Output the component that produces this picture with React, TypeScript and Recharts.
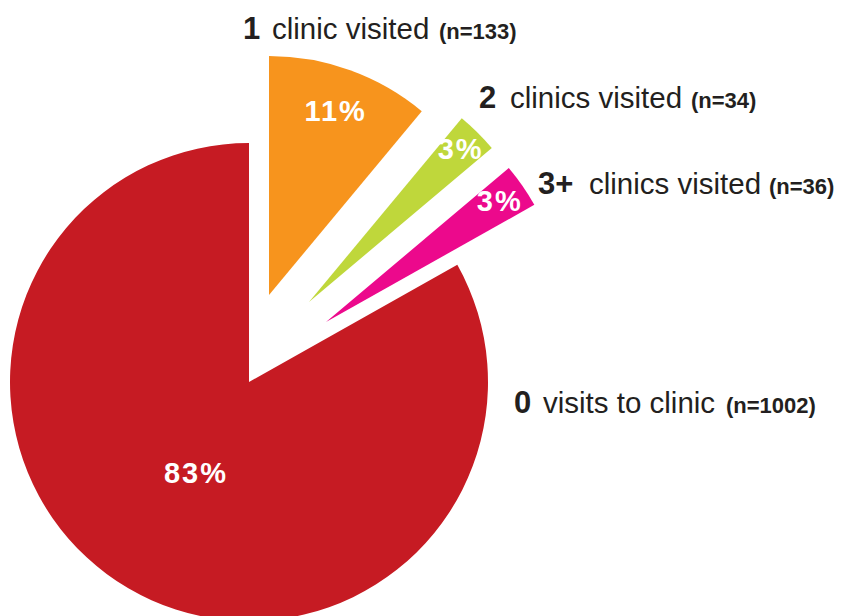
import { PieChart, Pie, Cell } from "recharts";

// clinic visits, clockwise from 12 o'clock
const categories = ["1 clinic", "2 clinics", "3+ clinics", "0 visits"];
const counts = [133, 34, 36, 1002];
const leadNumbers = ["1", "2", "3+", "0"];
const descriptions = ["clinic visited", "clinics visited", "clinics visited", "visits to clinic"];

const COLORS = ["#f7941d", "#bfd73b", "#ec098c", "#c61b23"];
const FONT = "'Liberation Sans', Arial, Helvetica, sans-serif";
const TEXT = "#231f20";

// how far each slice is pulled out from the red centre
const EXPLODE = [
  { dx: 20, dy: -87 },
  { dx: 60, dy: -80 },
  { dx: 77, dy: -60 },
  { dx: 0, dy: 0 },
];
// percent label distance from slice tip, as a share of radius
const PCT_RADIUS = [0.82, 0.9, 0.885, 0.44];
// outer category labels: x of each part, shared baseline
const LABEL_POS = [
  { lead: 243, desc: 272, n: 439, y: 39 },
  { lead: 479, desc: 510, n: 691, y: 108 },
  { lead: 538, desc: 589, n: 769, y: 194 },
  { lead: 514, desc: 543, n: 726, y: 413 },
];

const CX = 249;
const CY = 382;
const R = 239;
const RAD = Math.PI / 180;

const data = categories.map((name, i) => ({ name, value: counts[i] }));

const makeLabel = (slice: number) => (props: any) => {
  const { cx, cy, midAngle, outerRadius, percent, index } = props;
  if (index !== slice) return null;
  const r = outerRadius * PCT_RADIUS[slice];
  const x = cx + r * Math.cos(-midAngle * RAD);
  const y = cy + r * Math.sin(-midAngle * RAD);
  const pos = LABEL_POS[slice];
  return (
    <g>
      <text
        x={x}
        y={y}
        fill="#fff"
        textAnchor="middle"
        dominantBaseline="central"
        fontFamily={FONT}
        fontWeight={700}
        fontSize={29}
        letterSpacing={2}
      >
        {`${Math.round(percent * 100)}%`}
      </text>
      <text y={pos.y} fill={TEXT} fontFamily={FONT}>
        <tspan x={pos.lead} fontSize={31} fontWeight={700}>
          {leadNumbers[slice]}
        </tspan>
        <tspan x={pos.desc} fontSize={29.5}>
          {descriptions[slice]}
        </tspan>
        <tspan x={pos.n} fontSize={22} fontWeight={700}>
          {`(n=${counts[slice]})`}
        </tspan>
      </text>
    </g>
  );
};

export default function App() {
  return (
    <div style={{ position: "absolute", left: 0, top: 0, background: "#fff" }}>
      <PieChart width={841} height={616} margin={{ top: 0, right: 0, bottom: 0, left: 0 }}>
        {EXPLODE.map((off, slice) => (
          <Pie
            key={slice}
            data={data}
            dataKey="value"
            nameKey="name"
            cx={CX + off.dx}
            cy={CY + off.dy}
            outerRadius={R}
            innerRadius={0}
            startAngle={90}
            endAngle={-270}
            stroke="none"
            labelLine={false}
            label={makeLabel(slice)}
            isAnimationActive={false}
          >
            {data.map((d, i) => (
              <Cell key={d.name} fill={i === slice ? COLORS[i] : "transparent"} stroke="none" />
            ))}
          </Pie>
        ))}
      </PieChart>
    </div>
  );
}
